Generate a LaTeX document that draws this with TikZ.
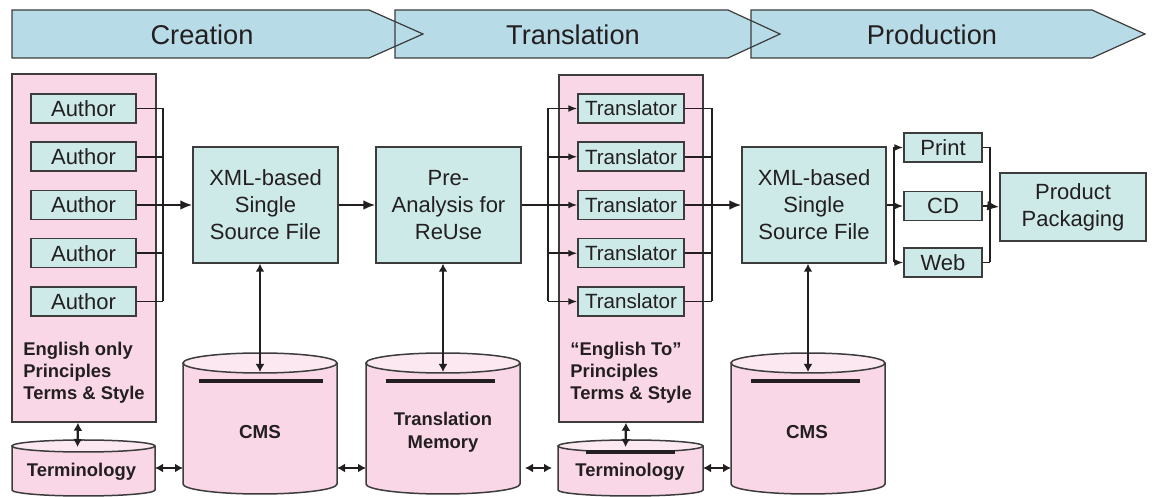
\documentclass[tikz,border=0pt]{standalone}
\usepackage{fontspec}
\setmainfont{Liberation Sans}
\usetikzlibrary{arrows.meta}

\definecolor{phaseblue}{RGB}{184,220,231}
\definecolor{boxcyan}{RGB}{205,234,232}
\definecolor{panelpink}{RGB}{249,215,230}
\definecolor{drumtop}{RGB}{252,232,241}
\definecolor{edgegray}{RGB}{60,60,60}
\definecolor{inkdark}{RGB}{35,31,32}

\tikzset{
  phaselabel/.style={text=inkdark, font=\fontsize{13.6}{16}\selectfont},
  panel/.style={draw=edgegray, fill=panelpink, line width=0.75pt, inner sep=0pt},
  task/.style={draw=edgegray, fill=boxcyan, line width=0.75pt, inner sep=0pt,
    text=inkdark, align=center, font=\fontsize{11}{13.5}\selectfont},
  notes/.style={inner sep=0pt, anchor=north west, align=left, text=inkdark,
    font=\bfseries\fontsize{9.2}{11}\selectfont},
  dblabel/.style={inner sep=0pt, align=center, text=inkdark,
    font=\bfseries\fontsize{9.2}{11.5}\selectfont},
  dbbody/.style={inner sep=0pt, outer sep=0pt},
  wire/.style={draw=inkdark, line width=0.8pt},
  feed/.style={wire, -{Latex[length=4.5pt,width=3.5pt]}},
  mainflow/.style={draw=inkdark, line width=1.3pt, -{Latex[length=6pt,width=5pt]}},
  link/.style={draw=inkdark, line width=1.1pt,
    {Latex[length=4pt,width=4.5pt]}-{Latex[length=4pt,width=4.5pt]}},
  bar/.style={draw=inkdark, line width=1.6pt},
}

% drum: centre x, half width, top y, bottom y, ellipse radius
\newcommand{\drawdrum}[5]{%
  \fill[panelpink] (#1-#2,#3) rectangle (#1+#2,#4);
  \fill[panelpink] (#1,#4) ellipse[x radius=#2, y radius=#5];
  \draw[edgegray, line width=0.75pt] (#1-#2,#3) -- (#1-#2,#4)
    arc[start angle=180, end angle=0, x radius=#2, y radius=#5] -- (#1+#2,#3);
  \draw[edgegray, line width=0.75pt, fill=drumtop] (#1,#3) ellipse[x radius=#2, y radius=#5];
}

\begin{document}
\begin{tikzpicture}[x=0.5pt, y=-0.5pt]
    \useasboundingbox (0,0) rectangle (1153,497);

    % Phase banner
    \foreach \xa/\xb/\xc in {12/369/423, 395/728/780, 751/1092/1145}
        \fill[phaseblue] (\xa,10) -- (\xb,10) -- (\xc,34) -- (\xb,58) -- (\xa,58) -- cycle;
    \foreach \xa/\xb/\xc in {12/369/423, 395/728/780, 751/1092/1145}
        \draw[edgegray, line width=0.6pt] (\xa,10) -- (\xb,10) -- (\xc,34) -- (\xb,58) -- (\xa,58) -- cycle;
    \node[phaselabel] (creation) at (202,35) {Creation};
    \node[phaselabel] (translation) at (573,35) {Translation};
    \node[phaselabel] (production) at (932,35) {Production};

    % Draw panels
    \node[panel, minimum width=72pt, minimum height=174pt] (panel1) at (84,248) {};
    \node[panel, minimum width=72pt, minimum height=173.5pt] (panel2) at (631,248.5) {};

    % Draw nodes
    \foreach \i in {1,...,5}
        \node[task, minimum width=52.5pt, minimum height=14.5pt] (author\i) at (83.5,{60.25+48.25*\i}) {Author};
    \foreach \i in {1,...,5}
        \node[task, minimum width=53pt, minimum height=14.5pt, font=\fontsize{10.3}{12}\selectfont] (translator\i) at (631,{60.25+48.25*\i}) {Translator};
    \node[task, minimum width=72.5pt, minimum height=58pt] (xml1) at (265.5,205) {XML-based\\Single\\Source File};
    \node[task, minimum width=72.5pt, minimum height=58pt] (pre) at (448.5,205) {Pre-\\Analysis for\\ReUse};
    \node[task, minimum width=72pt, minimum height=58pt] (xml2) at (814,205) {XML-based\\Single\\Source File};
    \node[task, minimum width=39pt, minimum height=14.5pt] (print) at (943,147.5) {Print};
    \node[task, minimum width=39pt, minimum height=14.5pt] (cd) at (943,206) {CD};
    \node[task, minimum width=39pt, minimum height=14.5pt] (web) at (943,262.5) {Web};
    \node[task, minimum width=73pt, minimum height=34pt] (product) at (1073,207) {Product\\Packaging};

    % Draw drums
    \drawdrum{83.5}{71.5}{446}{490}{6}
    \drawdrum{260}{77}{363}{484}{10}
    \drawdrum{443}{77}{363}{484}{10}
    \drawdrum{630.5}{72.5}{446}{490}{6}
    \drawdrum{808}{77}{363}{484}{10}
    \node[dbbody, minimum width=71.5pt, minimum height=28pt] (term1) at (83.5,468) {};
    \node[dbbody, minimum width=77pt, minimum height=70.5pt] (cms1) at (260,423.5) {};
    \node[dbbody, minimum width=77pt, minimum height=70.5pt] (tm) at (443,423.5) {};
    \node[dbbody, minimum width=72.5pt, minimum height=28pt] (term2) at (630.5,468) {};
    \node[dbbody, minimum width=77pt, minimum height=70.5pt] (cms2) at (808,423.5) {};
    \draw[bar] (199,381) -- (323,381);
    \draw[bar] (386,381) -- (495,381);
    \draw[bar] (586,452) -- (675,452);
    \draw[bar] (751,381) -- (860,381);

    % Labels
    \node[notes] (rules1) at (23,342) {English only\\Principles\\Terms \& Style};
    \node[notes] (rules2) at (570,342) {“English To”\\Principles\\Terms \& Style};
    \node[dblabel] (termname1) at (81.5,472) {Terminology};
    \node[dblabel, font=\bfseries\fontsize{9.4}{11.5}\selectfont] (cmsname1) at (260,432) {CMS};
    \node[dblabel] (tmname) at (443,432) {Translation\\Memory};
    \node[dblabel] (termname2) at (630,472) {Terminology};
    \node[dblabel, font=\bfseries\fontsize{9.4}{11.5}\selectfont] (cmsname2) at (807,432) {CMS};

    % Draw connections
    \coordinate (authorbus) at (163,0);
    \foreach \i in {1,...,5}
        \draw[wire] (author\i.east) -- (author\i.east -| authorbus);
    \draw[wire] (author1.east -| authorbus) -- (author5.east -| authorbus);
    \draw[mainflow] (author3.east -| authorbus) -- (xml1.west);
    \draw[mainflow] (xml1.east) -- (pre.west);

    \coordinate (fanin) at (548,0);
    \draw[wire, line width=1.3pt] (pre.east) -- (translator3.west -| fanin);
    \draw[wire] (translator1.west -| fanin) -- (translator5.west -| fanin);
    \foreach \i in {1,...,5}
        \draw[feed] (translator\i.west -| fanin) -- (translator\i.west);

    \coordinate (fanout) at (712,0);
    \foreach \i in {1,...,5}
        \draw[wire] (translator\i.east) -- (translator\i.east -| fanout);
    \draw[wire] (translator1.east -| fanout) -- (translator5.east -| fanout);
    \draw[mainflow] (translator3.east -| fanout) -- (xml2.west);

    \coordinate (mediain) at (894,0);
    \draw[wire, line width=1.3pt] (xml2.east) -- (xml2.east -| mediain);
    \draw[wire] (print.west -| mediain) -- (web.west -| mediain);
    \foreach \m in {print,cd,web}
        \draw[feed] (\m.west -| mediain) -- (\m.west);
    \coordinate (mediaout) at (990,0);
    \foreach \m in {print,cd,web}
        \draw[wire] (\m.east) -- (\m.east -| mediaout);
    \draw[wire] (print.east -| mediaout) -- (web.east -| mediaout);
    \draw[mainflow] (cd.east -| mediaout) -- (product.west);

    % Repository links
    \draw[link] (xml1.south -| cms1.north) -- ([yshift=-9.5pt]cms1.north);
    \draw[link] (pre.south -| tm.north) -- ([yshift=-9.5pt]tm.north);
    \draw[link] (xml2.south -| cms2.north) -- ([yshift=-9.5pt]cms2.north);
    \draw[link] ([xshift=-3pt]panel1.south) -- ([xshift=-3pt,yshift=-3.5pt]term1.north);
    \draw[link] ([xshift=-2.5pt]panel2.south) -- ([xshift=-2.5pt,yshift=-3.5pt]term2.north);
    \coordinate (linkrow) at (0,468);
    \draw[link] (term1.east |- linkrow) -- (cms1.west |- linkrow);
    \draw[link] (cms1.east |- linkrow) -- (tm.west |- linkrow);
    \draw[link, shorten <=2.5pt, shorten >=3pt] (tm.east |- linkrow) -- (term2.west |- linkrow);
    \draw[link] (term2.east |- linkrow) -- (cms2.west |- linkrow);
\end{tikzpicture}
\end{document}
